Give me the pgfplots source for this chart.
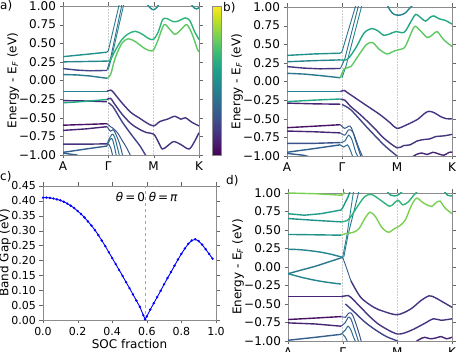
\documentclass[border=0pt]{standalone}
\usepackage{fontspec}
\setmainfont{DejaVu Sans}
\usepackage{pgfplots}
\pgfplotsset{compat=1.18}

\definecolor{v00}{HTML}{440154}
\definecolor{v05}{HTML}{471164}
\definecolor{v10}{HTML}{482475}
\definecolor{v15}{HTML}{463480}
\definecolor{v20}{HTML}{414487}
\definecolor{v25}{HTML}{3B528B}
\definecolor{v30}{HTML}{355F8D}
\definecolor{v35}{HTML}{2F6C8E}
\definecolor{v40}{HTML}{2A788E}
\definecolor{v45}{HTML}{25848E}
\definecolor{v50}{HTML}{21918C}
\definecolor{v55}{HTML}{1E9C89}
\definecolor{v60}{HTML}{22A884}
\definecolor{v65}{HTML}{2FB47C}
\definecolor{v70}{HTML}{44BF70}
\definecolor{v75}{HTML}{5EC962}
\definecolor{v80}{HTML}{7AD151}
\definecolor{v85}{HTML}{9BD93C}

\newcommand{\fs}{\fontsize{12}{14}\selectfont}

\pgfplotsset{
  base/.style={
    scale only axis,
    axis line style={black!45},
    tick style={black!60},
    tick align=outside,
    major tick length=3.5pt,
    tick label style={font=\fs},
    label style={font=\fs},
  },
  bandax/.style={
    base,
    xmin=0, xmax=3, ymin=-1, ymax=1,
    xtick={0,1,2,3},
    xticklabels={A,Γ,M,K},
    ytick={-1,-0.75,-0.5,-0.25,0,0.25,0.5,0.75,1},
    yticklabels={−1.00,−0.75,−0.50,−0.25,0.00,0.25,0.50,0.75,1.00},
    ylabel={Energy - E\textsubscript{\textit{F}} (eV)},
    ylabel style={at={(axis description cs:0,0.5)}, yshift=50pt, anchor=center},
  },
  bd/.style={line width=1.4pt, smooth, tension=0.5},
  fl/.style={line width=1.4pt},
  st/.style={line width=0.9pt},
  gl/.style={black!20, densely dotted, line width=0.5pt},
}

\begin{document}
\begin{tikzpicture}
\path[use as bounding box] (0,0) rectangle (457pt,352pt);

% ---------------- a) ----------------
\begin{axis}[bandax, at={(63pt,197pt)}, anchor=south west,
  width=136pt, height=149pt,
  colormap/viridis, point meta min=0, point meta max=1,
  colorbar,
  colorbar style={at={(parent axis.north east)}, anchor=north west,
    xshift=5pt, width=9pt, height=149pt, scale only axis,
    ytick=\empty, axis line style={black!45}},
]
\addplot[gl] coordinates {(1,-1) (1,1)};
\addplot[gl] coordinates {(2,-1) (2,1)};
% conduction
\addplot[fl, v50] coordinates {(0,0.32) (0.5,0.35) (0.97,0.38)};
\addplot[fl, v45] coordinates {(0,0.25) (0.5,0.255) (0.97,0.26)};
\addplot[fl, v20] coordinates {(0,0.16) (0.3,0.14) (0.6,0.13) (0.97,0.135)};
\addplot[fl, v40] coordinates {(0,0.08) (0.3,0.075) (0.6,0.06) (0.97,0.03)};
\addplot[st, v40] coordinates {(0.97,0.38) (1.0,0.40) (1.24,1.02)};
\addplot[st, v35] coordinates {(0.97,0.135) (1.05,0.3) (1.3,1.02)};
\addplot[st, v45] coordinates {(1.0,0.15) (1.07,0.3) (1.34,1.02)};
\addplot[bd, v65] coordinates {(0.97,0.26) (1.05,0.28) (1.15,0.4) (1.3,0.55) (1.45,0.63) (1.6,0.66) (1.75,0.62) (1.9,0.56) (2.0,0.555) (2.1,0.65) (2.2,0.82) (2.3,0.83) (2.43,0.79) (2.55,0.8) (2.7,0.84) (2.8,0.8) (2.9,0.66) (3.0,0.55)};
\addplot[bd, v75] coordinates {(0.97,0.03) (1.05,0.08) (1.15,0.3) (1.3,0.5) (1.44,0.56) (1.6,0.52) (1.8,0.43) (1.92,0.40) (2.0,0.41) (2.1,0.55) (2.23,0.75) (2.35,0.69) (2.47,0.62) (2.6,0.68) (2.73,0.75) (2.85,0.62) (2.97,0.41) (3.0,0.40)};
\addplot[bd, v50] coordinates {(1.85,1.03) (1.93,0.97) (2.0,0.95) (2.07,0.98) (2.12,1.03)};
\addplot[bd, v50] coordinates {(2.82,1.03) (2.9,0.97) (2.95,0.96) (3.0,0.98)};
% valence
\addplot[fl, v45] coordinates {(0,-0.145) (0.5,-0.145) (0.97,-0.145)};
\addplot[bd, v15] coordinates {(0.97,-0.145) (1.05,-0.13) (1.1,-0.15) (1.3,-0.3) (1.5,-0.43) (1.7,-0.51) (1.85,-0.57) (2.0,-0.61) (2.14,-0.55) (2.3,-0.52) (2.47,-0.48) (2.6,-0.52) (2.7,-0.5) (2.84,-0.56) (3.0,-0.61)};
\addplot[fl, v10] coordinates {(0,-0.27) (0.5,-0.275) (0.97,-0.285)};
\addplot[fl, v60] coordinates {(0,-0.30) (0.5,-0.28) (0.97,-0.255)};
\addplot[bd, v15] coordinates {(0.97,-0.255) (1.05,-0.24) (1.12,-0.3) (1.3,-0.45) (1.5,-0.58) (1.7,-0.66) (1.85,-0.7) (2.0,-0.72) (2.1,-0.82) (2.19,-0.92) (2.3,-0.88) (2.44,-0.82) (2.6,-0.86) (2.78,-0.92) (2.9,-0.82) (3.0,-0.7)};
\addplot[bd, v20] coordinates {(1.0,-0.3) (1.1,-0.35) (1.3,-0.55) (1.5,-0.72) (1.7,-0.88) (1.82,-1.0) (1.9,-1.05)};
\addplot[fl, v05] coordinates {(0,-0.60) (0.5,-0.59) (0.97,-0.58)};
\addplot[fl, v10] coordinates {(0,-0.67) (0.5,-0.65) (0.97,-0.62)};
\addplot[fl, v15] coordinates {(0,-0.855) (0.5,-0.855) (0.97,-0.85)};
\addplot[fl, v30] coordinates {(0,-0.965) (0.5,-0.92) (0.97,-0.88)};
\addplot[fl, v30] coordinates {(0,-0.975) (0.3,-1.0) (0.5,-1.05)};
\addplot[bd, v25, line width=1pt] coordinates {(0.97,-0.58) (1.05,-0.62) (1.1,-0.64) (1.2,-0.7) (1.3,-0.8) (1.4,-0.9) (1.5,-1.02)};
\addplot[bd, v30, line width=1pt] coordinates {(0.97,-0.62) (1.05,-0.68) (1.1,-0.66) (1.15,-0.7) (1.25,-0.85) (1.32,-1.02)};
\addplot[bd, v35, line width=1pt] coordinates {(0.97,-0.85) (1.05,-0.75) (1.1,-0.72) (1.15,-0.78) (1.2,-0.9) (1.25,-1.02)};
\addplot[bd, v35, line width=1pt] coordinates {(0.97,-0.88) (1.03,-0.8) (1.08,-0.78) (1.12,-0.85) (1.18,-1.02)};
\addplot[bd, v30, line width=1pt] coordinates {(1.0,-0.85) (1.05,-0.9) (1.1,-1.02)};
\end{axis}

% ---------------- b) ----------------
\begin{axis}[bandax, at={(287pt,196pt)}, anchor=south west,
  width=165pt, height=149pt]
\addplot[gl] coordinates {(1,-1) (1,1)};
\addplot[gl] coordinates {(2,-1) (2,1)};
\addplot[fl, v50] coordinates {(0,0.35) (0.5,0.37) (0.97,0.38)};
\addplot[fl, v45] coordinates {(0,0.265) (0.5,0.28) (0.97,0.29)};
\addplot[fl, v15] coordinates {(0,0.2) (0.3,0.18) (0.6,0.17) (0.97,0.175)};
\addplot[fl, v40] coordinates {(0,0.11) (0.3,0.1) (0.6,0.08) (0.97,0.05)};
\addplot[st, v40] coordinates {(0.97,0.38) (1.0,0.4) (1.25,1.02)};
\addplot[st, v35] coordinates {(0.97,0.175) (1.05,0.3) (1.3,1.02)};
\addplot[st, v45] coordinates {(1.0,0.05) (1.07,0.2) (1.36,1.02)};
\addplot[bd, v60] coordinates {(0.97,0.29) (1.1,0.3) (1.25,0.45) (1.4,0.65) (1.54,0.71) (1.65,0.68) (1.76,0.62) (1.87,0.64) (1.98,0.67) (2.13,0.66) (2.25,0.8) (2.34,0.9) (2.44,0.85) (2.52,0.81) (2.6,0.86) (2.67,0.88) (2.77,0.84) (2.88,0.82) (3.0,0.77)};
\addplot[bd, v75] coordinates {(0.97,0.05) (1.04,0.17) (1.16,0.2) (1.3,0.35) (1.45,0.5) (1.56,0.52) (1.68,0.43) (1.82,0.37) (1.95,0.41) (2.05,0.43) (2.15,0.47) (2.31,0.73) (2.4,0.7) (2.55,0.59) (2.65,0.63) (2.73,0.67) (2.85,0.56) (3.0,0.47)};
\addplot[bd, v45] coordinates {(1.82,1.03) (1.88,0.95) (1.95,0.9) (2.05,0.89) (2.15,0.92) (2.25,1.0) (2.3,1.03)};
\addplot[fl, v45] coordinates {(0,-0.135) (0.5,-0.135) (0.97,-0.135)};
\addplot[bd, v15] coordinates {(0.97,-0.135) (1.04,-0.12) (1.1,-0.15) (1.2,-0.2) (1.34,-0.27) (1.52,-0.36) (1.7,-0.45) (1.885,-0.56) (2.0,-0.63) (2.18,-0.58) (2.37,-0.51) (2.5,-0.43) (2.58,-0.40) (2.68,-0.42) (2.79,-0.47) (2.9,-0.5) (3.0,-0.5)};
\addplot[fl, v10] coordinates {(0,-0.29) (0.5,-0.30) (0.97,-0.305)};
\addplot[fl, v60] coordinates {(0,-0.27) (0.5,-0.25) (0.97,-0.235)};
\addplot[bd, v15] coordinates {(0.97,-0.24) (1.05,-0.25) (1.15,-0.33) (1.34,-0.45) (1.58,-0.62) (1.76,-0.76) (2.0,-0.89) (2.12,-0.86) (2.24,-0.85) (2.36,-0.8) (2.48,-0.78) (2.6,-0.77) (2.7,-0.74) (2.85,-0.73) (3.0,-0.71)};
\addplot[bd, v20] coordinates {(1.0,-0.31) (1.16,-0.38) (1.46,-0.62) (1.76,-0.85) (1.95,-0.97) (2.05,-1.03)};
\addplot[bd, v10] coordinates {(2.25,-1.03) (2.35,-0.98) (2.45,-0.96) (2.55,-0.98) (2.65,-0.95) (2.75,-0.97) (2.85,-0.99) (2.95,-0.95) (3.0,-0.95)};
\addplot[fl, v05] coordinates {(0,-0.62) (0.5,-0.6) (0.97,-0.58)};
\addplot[fl, v10] coordinates {(0,-0.665) (0.5,-0.675) (0.97,-0.69)};
\addplot[fl, v25] coordinates {(0,-0.83) (0.5,-0.83) (0.97,-0.82)};
\addplot[fl, v30] coordinates {(0,-0.95) (0.5,-0.9) (0.97,-0.85)};
\addplot[fl, v30] coordinates {(0,-0.965) (0.3,-0.99) (0.5,-1.03)};
\addplot[bd, v25, line width=1pt] coordinates {(0.97,-0.58) (1.05,-0.63) (1.12,-0.6) (1.17,-0.62) (1.25,-0.8) (1.35,-1.02)};
\addplot[bd, v30, line width=1pt] coordinates {(0.97,-0.69) (1.05,-0.72) (1.12,-0.65) (1.2,-0.68) (1.3,-0.88) (1.38,-1.02)};
\addplot[bd, v35, line width=1pt] coordinates {(0.97,-0.82) (1.05,-0.8) (1.12,-0.72) (1.18,-0.78) (1.25,-0.95) (1.3,-1.02)};
\addplot[bd, v35, line width=1pt] coordinates {(0.97,-0.85) (1.03,-0.88) (1.1,-0.85) (1.15,-0.92) (1.2,-1.02)};
\end{axis}

% ---------------- c) ----------------
\begin{axis}[base, at={(43pt,32pt)}, anchor=south west,
  width=173pt, height=134pt,
  tick label style={font=\fontsize{11}{13}\selectfont},
  xmin=0, xmax=1, ymin=0, ymax=0.45,
  xtick={0,0.2,0.4,0.6,0.8,1},
  xticklabels={0.0,0.2,0.4,0.6,0.8,1.0},
  ytick={0,0.05,0.1,0.15,0.2,0.25,0.3,0.35,0.4,0.45},
  yticklabels={0.00,0.05,0.10,0.15,0.20,0.25,0.30,0.35,0.40,0.45},
  xlabel={SOC fraction}, ylabel={Band Gap (eV)},
  xlabel style={yshift=3pt},
  ylabel style={at={(axis description cs:0,0.5)}, yshift=38pt, anchor=center},
]
\addplot[black!35, dashed, line width=0.6pt] coordinates {(0.59,0) (0.59,0.45)};
\addplot[blue, line width=0.9pt, mark=*, mark size=0.7pt] coordinates {
(0.00,0.411) (0.02,0.411) (0.04,0.410) (0.06,0.408) (0.08,0.405) (0.10,0.402)
(0.12,0.397) (0.14,0.391) (0.16,0.384) (0.18,0.376) (0.20,0.366) (0.22,0.356)
(0.24,0.344) (0.26,0.331) (0.28,0.317) (0.30,0.302) (0.32,0.285) (0.34,0.267)
(0.36,0.248) (0.38,0.228) (0.40,0.208) (0.42,0.188) (0.44,0.168) (0.46,0.148)
(0.48,0.127) (0.50,0.107) (0.52,0.086) (0.54,0.065) (0.56,0.044) (0.58,0.016)
(0.59,0.002) (0.60,0.012) (0.62,0.035) (0.64,0.056) (0.66,0.077) (0.68,0.098)
(0.70,0.120) (0.72,0.141) (0.74,0.161) (0.76,0.182) (0.78,0.203) (0.80,0.222)
(0.82,0.240) (0.84,0.256) (0.86,0.267) (0.88,0.271) (0.90,0.265) (0.92,0.253)
(0.94,0.238) (0.96,0.222) (0.98,0.206)};
\node[font=\fs] at (axis cs:0.6,0.414) {\textit{θ}\thinspace=\thinspace0 \textit{θ}\thinspace=\thinspace\textit{π}};
\end{axis}

% ---------------- d) ----------------
\begin{axis}[bandax, at={(288pt,11pt)}, anchor=south west,
  width=164pt, height=148pt]
\addplot[gl] coordinates {(1,-1) (1,1)};
\addplot[gl] coordinates {(2,-1) (2,1)};
\addplot[fl, v80] coordinates {(0,1.0) (0.5,0.99) (0.97,0.97) (1.0,0.98) (1.05,1.03)};
\addplot[fl, v55] coordinates {(0,0.72) (0.3,0.70) (0.6,0.72) (0.97,0.77) (1.0,0.8) (1.1,0.95) (1.14,1.03)};
\addplot[fl, v50] coordinates {(0,0.655) (0.5,0.63) (0.97,0.61)};
\addplot[fl, v50] coordinates {(0,0.44) (0.5,0.435) (0.97,0.43)};
\addplot[bd, v45] coordinates {(0,0.24) (0.2,0.235) (0.4,0.22) (0.6,0.2) (0.8,0.17) (1.0,0.13)};
\addplot[bd, v40] coordinates {(0,-0.09) (0.25,-0.04) (0.5,0.01) (0.75,0.07) (1.0,0.13)};
\addplot[bd, v45] coordinates {(0,-0.09) (0.25,-0.14) (0.5,-0.18) (0.75,-0.21) (0.97,-0.23)};
\addplot[st, v45] coordinates {(1.0,0.13) (1.08,0.44) (1.2,1.03)};
\addplot[st, v40] coordinates {(1.02,0.13) (1.1,0.44) (1.3,1.03)};
\addplot[st, v30] coordinates {(1.0,0.13) (1.05,0.03) (1.15,-0.185)};
\addplot[bd, v65] coordinates {(0.97,0.61) (1.05,0.62) (1.13,0.66) (1.29,0.84) (1.41,0.955) (1.53,0.98) (1.68,0.91) (1.86,0.82) (1.95,0.87) (2.02,0.9) (2.1,0.84) (2.2,0.88) (2.3,0.97) (2.38,1.03)};
\addplot[bd, v80] coordinates {(0.97,0.43) (1.05,0.45) (1.2,0.47) (1.3,0.52) (1.4,0.65) (1.5,0.74) (1.6,0.68) (1.72,0.53) (1.84,0.47) (1.95,0.52) (2.05,0.56) (2.15,0.64) (2.25,0.82) (2.35,0.93) (2.45,0.88) (2.54,0.84) (2.63,0.82) (2.71,0.87) (2.78,0.89) (2.87,0.80) (3.0,0.72)};
\addplot[bd, v60] coordinates {(1.8,1.03) (1.88,0.97) (1.95,0.96) (2.03,0.98) (2.1,1.03)};
\addplot[bd, v60] coordinates {(2.85,1.03) (2.92,0.97) (3.0,0.96)};
\addplot[bd, v15] coordinates {(1.15,-0.185) (1.33,-0.41) (1.57,-0.545) (1.75,-0.6) (2.0,-0.645) (2.24,-0.57) (2.43,-0.455) (2.58,-0.39) (2.68,-0.41) (2.79,-0.455) (3.0,-0.545)};
\addplot[fl, v10] coordinates {(0,-0.40) (0.5,-0.40) (0.97,-0.40)};
\addplot[bd, v15] coordinates {(0.97,-0.40) (1.05,-0.39) (1.1,-0.385) (1.15,-0.41) (1.33,-0.545) (1.51,-0.68) (1.69,-0.79) (2.0,-0.905) (2.24,-0.86) (2.48,-0.77) (2.66,-0.70) (2.8,-0.72) (3.0,-0.70)};
\addplot[bd, v20] coordinates {(1.05,-0.5) (1.2,-0.6) (1.4,-0.74) (1.6,-0.85) (1.8,-0.94) (2.0,-1.0) (2.05,-1.03)};
\addplot[bd, v10] coordinates {(2.3,-1.03) (2.4,-0.98) (2.5,-0.95) (2.6,-0.97) (2.7,-0.96) (2.8,-0.94) (2.9,-0.97) (3.0,-0.95)};
\addplot[fl, v05] coordinates {(0,-0.71) (0.5,-0.69) (0.97,-0.67)};
\addplot[fl, v10] coordinates {(0,-0.755) (0.5,-0.77) (0.97,-0.8)};
\addplot[fl, v30] coordinates {(0,-0.99) (0.5,-0.95) (0.97,-0.91)};
\addplot[fl, v30] coordinates {(0,-1.0) (0.3,-1.03)};
\addplot[bd, v25, line width=1pt] coordinates {(0.97,-0.67) (1.05,-0.68) (1.1,-0.63) (1.15,-0.62) (1.2,-0.68) (1.28,-0.85) (1.35,-1.03)};
\addplot[bd, v30, line width=1pt] coordinates {(0.97,-0.8) (1.05,-0.75) (1.1,-0.68) (1.15,-0.7) (1.22,-0.85) (1.3,-1.03)};
\addplot[bd, v35, line width=1pt] coordinates {(0.97,-0.91) (1.05,-0.85) (1.1,-0.8) (1.15,-0.85) (1.2,-0.95) (1.25,-1.03)};
\addplot[bd, v30, line width=1pt] coordinates {(1.0,-0.91) (1.05,-0.95) (1.1,-1.03)};
\end{axis}

% panel letters
\node[font=\fs, anchor=north west, inner sep=0pt] at (0pt,352pt) {a)};
\node[font=\fs, anchor=north west, inner sep=0pt] at (223pt,350pt) {b)};
\node[font=\fs, anchor=north west, inner sep=0pt] at (0pt,181pt) {c)};
\node[font=\fs, anchor=north west, inner sep=0pt] at (226pt,177pt) {d)};
\end{tikzpicture}
\end{document}
